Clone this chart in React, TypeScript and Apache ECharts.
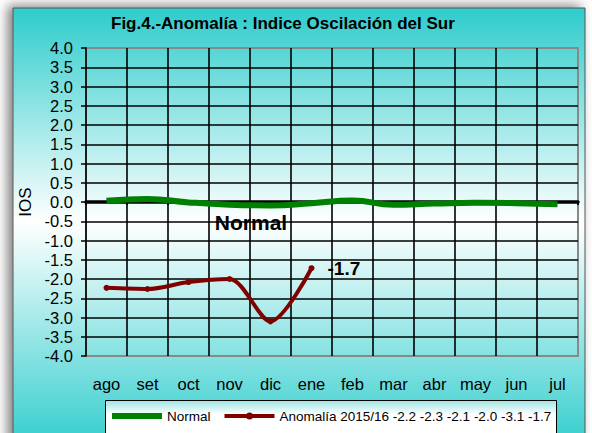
import React, { useEffect, useRef } from "react";
import * as echarts from "echarts";

const months = ["ago", "set", "oct", "nov", "dic", "ene", "feb", "mar", "abr", "may", "jun", "jul"];
const normalValues = [0.03, 0.08, -0.01, -0.07, -0.09, -0.03, 0.04, -0.07, -0.04, -0.02, -0.03, -0.06];
const anomalyValues = [-2.23, -2.26, -2.08, -2.0, -3.1, -1.72];
const yMin = -4;
const yMax = 4;
const yInterval = 0.5;
const titleText = "Fig.4.-Anomalía : Indice Oscilación del Sur";
const yName = "IOS";
const normalName = "Normal";
const anomalyName = "Anomalía 2015/16 -2.2 -2.3 -2.1 -2.0 -3.1 -1.7";

const FONT = "'Liberation Sans', Arial, sans-serif";

export default function App() {
  const ref = useRef<HTMLDivElement>(null);
  useEffect(() => {
    if (!ref.current) return;
    const chart = echarts.init(ref.current, undefined, { renderer: "svg" });
    const lastIdx = anomalyValues.length - 1;
    chart.setOption({
      animation: false,
      textStyle: { fontFamily: FONT },
      title: {
        text: titleText,
        left: 111,
        top: 15,
        padding: 0,
        textStyle: { fontFamily: FONT, fontSize: 17, fontWeight: "bold", color: "#000" },
      },
      graphic: [
        {
          type: "rect",
          z: -10,
          shape: { x: 13, y: 8, width: 572, height: 445 },
          style: {
            fill: new echarts.graphic.LinearGradient(0, 0, 0, 1, [
              { offset: 0, color: "#2ECCCC" },
              { offset: 0.48, color: "#FFFFFF" },
              { offset: 1, color: "#2ECCCC" },
            ]),
            stroke: "#555",
            lineWidth: 1,
            shadowBlur: 12,
            shadowColor: "rgba(0,0,0,0.5)",
            shadowOffsetX: -5,
            shadowOffsetY: -2,
          },
        },
        {
          type: "rect",
          z: -5,
          shape: { x: 105.5, y: 400.5, width: 451, height: 40 },
          style: {
            fill: new echarts.graphic.LinearGradient(0, 0, 0, 1, [
              { offset: 0, color: "#9FE3E3" },
              { offset: 0.35, color: "#FFFFFF" },
              { offset: 1, color: "#FFFFFF" },
            ]),
            stroke: "#000",
            lineWidth: 1,
          },
        },
        {
          type: "text",
          z: 10,
          x: 251,
          y: 222,
          style: {
            text: normalName,
            font: "bold 21px " + FONT,
            fill: "#000",
            textAlign: "center",
            textVerticalAlign: "middle",
          },
        },
      ],
      legend: {
        left: 112,
        top: 409,
        padding: 0,
        itemWidth: 50,
        itemHeight: 12,
        itemGap: 14,
        textStyle: { fontFamily: FONT, fontSize: 13.5, color: "#000" },
        data: [
          {
            name: normalName,
            icon: "path://M0,0 L50,0 L50,6 L0,6 Z",
            itemStyle: { color: "#008000" },
          },
          {
            name: anomalyName,
            icon:
              "path://M0,1.5 L50,1.5 L50,5.5 L0,5.5 Z M21.5,3.5 A3.5,3.5 0 1,1 28.5,3.5 A3.5,3.5 0 1,1 21.5,3.5 Z",
            itemStyle: { color: "#800000" },
          },
        ],
      },
      grid: {
        left: 86,
        right: 14,
        top: 48,
        bottom: 77,
        show: true,
        borderColor: "#888",
        borderWidth: 2,
        backgroundColor: "transparent",
      },
      xAxis: [
        {
          type: "category",
          data: months,
          boundaryGap: true,
          position: "bottom",
          axisLine: { show: false, onZero: false },
          axisTick: { show: false },
          axisLabel: { margin: 19, fontSize: 16.5, color: "#000", fontFamily: FONT },
          splitLine: { show: true, showMinLine: false, showMaxLine: false, lineStyle: { color: "#000", width: 1.6 } },
        },
        {
          type: "category",
          data: months,
          boundaryGap: true,
          position: "bottom",
          axisLine: { show: true, onZero: true, lineStyle: { color: "#000", width: 3.5 } },
          axisTick: { show: true, length: 3, lineStyle: { color: "#000", width: 2 } },
          axisLabel: { show: false },
          splitLine: { show: false },
        },
      ],
      yAxis: {
        type: "value",
        min: yMin,
        max: yMax,
        interval: yInterval,
        name: yName,
        nameLocation: "middle",
        nameGap: 48,
        nameRotate: 90,
        nameTextStyle: { fontFamily: FONT, fontSize: 17, color: "#000" },
        axisLine: { show: true, lineStyle: { color: "#000", width: 1.6 } },
        axisTick: { show: true, length: 5, lineStyle: { color: "#000", width: 1.5 } },
        axisLabel: {
          margin: 13,
          fontSize: 16.5,
          color: "#000",
          fontFamily: FONT,
          formatter: (v: number) => v.toFixed(1),
        },
        splitLine: { show: true, showMinLine: false, showMaxLine: false, lineStyle: { color: "#000", width: 1.6 } },
      },
      series: [
        {
          name: normalName,
          type: "line",
          xAxisIndex: 0,
          data: normalValues,
          smooth: 0.5,
          symbol: "none",
          lineStyle: { color: "#008000", width: 6 },
          itemStyle: { color: "#008000" },
          z: 3,
        },
        {
          name: anomalyName,
          type: "line",
          xAxisIndex: 0,
          data: anomalyValues.map((v, i) =>
            i === lastIdx
              ? {
                  value: v,
                  label: {
                    show: true,
                    position: "right",
                    distance: 13,
                    formatter: (p: any) => (p.value as number).toFixed(1),
                    fontFamily: FONT,
                    fontSize: 19,
                    fontWeight: "bold",
                    color: "#000",
                  },
                }
              : v
          ),
          smooth: 0.3,
          symbol: "circle",
          symbolSize: 6,
          showSymbol: true,
          lineStyle: { color: "#800000", width: 4 },
          itemStyle: { color: "#800000" },
          z: 4,
        },
      ],
    });
    return () => chart.dispose();
  }, []);
  return (
    <div
      ref={ref}
      style={{ position: "absolute", left: 0, top: 0, width: 592, height: 433, background: "#fff" }}
    />
  );
}
